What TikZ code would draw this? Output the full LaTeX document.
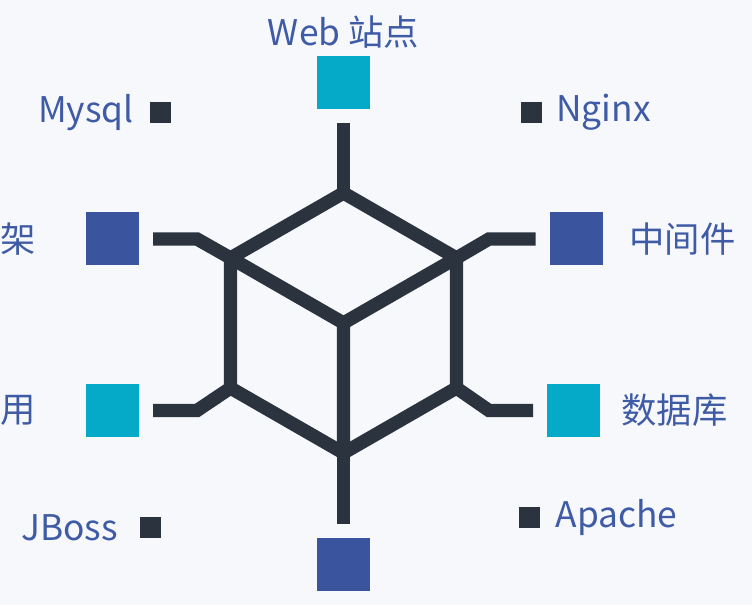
\documentclass[tikz,border=0pt]{standalone}
\usepackage{fontspec}
\setmainfont{Noto Sans CJK SC}
\usepackage{xcolor}
\usepackage{tikz}
\usetikzlibrary{positioning}
\definecolor{paper}{HTML}{F6F8FC}
\definecolor{ink}{HTML}{2B333E}
\definecolor{cyan}{HTML}{05AAC8}
\definecolor{navy}{HTML}{3A559E}
\definecolor{labelblue}{HTML}{3F5BA5}

\begin{document}
\begin{tikzpicture}[
  x=0.75pt, y=-0.75pt,
  font=\fontsize{26.5}{30}\selectfont,
  bigbox/.style={
    minimum size=39.75pt,
    inner sep=0pt,
    outer sep=0pt
  },
  tinybox/.style={
    fill=ink,
    minimum size=15.75pt,
    inner sep=0pt,
    outer sep=0pt
  },
  tag/.style={
    text=labelblue,
    inner sep=0pt
  },
  edge/.style={draw=ink,line width=10pt,line join=miter},
  link/.style={draw=ink,line width=10pt,shorten <=10.5pt}
]

\fill[paper] (0,0) rectangle (752,605);
\useasboundingbox (0,0) rectangle (752,605);

% cube corners
\coordinate (ct) at (343.5,193);
\coordinate (lt) at (230.5,258);
\coordinate (rt) at (456.5,258);
\coordinate (cc) at (343.5,323);
\coordinate (lb) at (230.5,388);
\coordinate (rb) at (456.5,388);
\coordinate (cb) at (343.5,453);
\coordinate (kl) at (197,0);
\coordinate (kr) at (489,0);

\draw[edge] (ct) -- (rt) -- (rb) -- (cb) -- (lb) -- (lt) -- cycle;
\draw[edge] (lt) -- (cc) -- (rt) (cc) -- (cb);

% coloured boxes
\node[bigbox,fill=cyan] (web) at (343.5,83) {};
\node[bigbox,fill=navy] (frame) at (112.5,239) {};
\node[bigbox,fill=navy] (midware) at (576,239) {};
\node[bigbox,fill=cyan] (app) at (112.5,410.5) {};
\node[bigbox,fill=cyan] (database) at (573.5,410.5) {};
\node[bigbox,fill=navy] (bottom) at (343.5,564.5) {};

\node[tag,above=6pt of web] (weblabel) {Web 站点};
\node[tag,left=37.5pt of frame] (framelabel) {架};
\node[tag,right=20pt of midware] (midwarelabel) {中间件};
\node[tag,left=37.5pt of app] (applabel) {用};
\node[tag,right=16pt of database] (databaselabel) {数据库};

% small markers
\node[tinybox] (mysql) at (160.5,112.5) {};
\node[tinybox] (nginx) at (531,112.5) {};
\node[tinybox] (jboss) at (150,527.5) {};
\node[tinybox] (apache) at (529,517.5) {};

\node[tag,left=12pt of mysql] (mysqllabel) {Mysql};
\node[tag,right=11pt of nginx] (nginxlabel) {Nginx};
\node[tag,left=16pt of jboss] (jbosslabel) {JBoss};
\node[tag,right=12pt of apache] (apachelabel) {Apache};

% connectors into the cube
\draw[link] (web) -- (ct);
\draw[link] (frame) -- (frame -| kl) -- (lt);
\draw[link] (app) -- (app -| kl) -- (lb);
\draw[link] (midware) -- (midware -| kr) -- (rt);
\draw[link] (database) -- (database -| kr) -- (rb);
\draw[link] (bottom) -- (cb);
\end{tikzpicture}
\end{document}
